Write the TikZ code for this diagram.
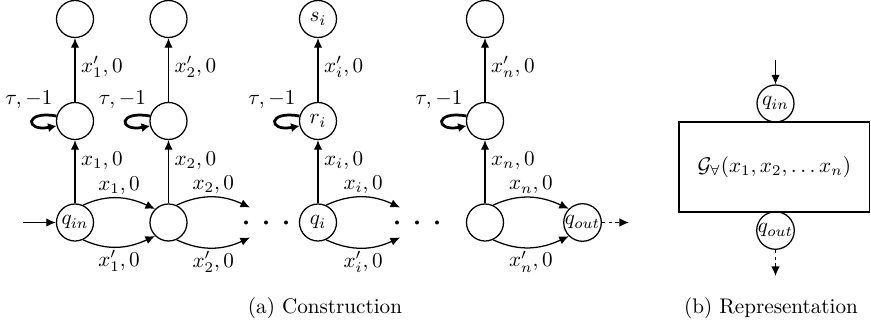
\documentclass[tikz,border=0pt]{standalone}
\usetikzlibrary{arrows.meta}
\begin{document}
\begin{tikzpicture}[x=0.473pt,y=0.473pt,
  st/.style={circle,draw,line width=0.6pt,minimum size=17.5pt,inner sep=0pt},
  ed/.style={line width=0.6pt,-{Latex[length=4.5pt,width=4pt]}},
  lp/.style={line width=1.3pt,-{Latex[length=4pt,width=4.4pt]}},
  lb/.style={font=\normalsize,inner sep=2.6pt},
  al/.style={lb,inner sep=1.4pt},
  dsh/.style={ed,dash pattern=on 1.6pt off 1.6pt}]
\useasboundingbox (0,0) rectangle (871,324);
% nodes
\foreach \n/\x in {1/75,2/168.5,4/485}{
  \node[st] (t\n) at (\x,305) {};
  \node[st] (m\n) at (\x,203) {};
}
\node[st] (t3) at (318,305) {$s_i$};
\node[st] (m3) at (318,203) {$r_i$};
\node[st] (b1) at (75,101.5) {$q_{in}$};
\node[st] (b2) at (168.5,101.5) {};
\node[st] (b3) at (318,101.5) {$q_i$};
\node[st] (b4) at (485,101.5) {};
\node[st] (qo) at (582.5,101.5) {$q_{out}$};
\coordinate (st0) at (23,101.5);
\coordinate (c2u) at (250,116.5);
\coordinate (c2d) at (250,86.5);
\coordinate (c3u) at (400,116.5);
\coordinate (c3d) at (400,86.5);
\coordinate (qoe) at (629,101.5);
% dots
\foreach \x in {246,266,286,397,417,437}{\fill (\x,101.5) circle (2);}
% vertical edges and loops
\foreach \n/\s in {1/1,2/2,3/i,4/n}{
  \draw[ed] (b\n) -- node[lb,right,pos=0.67]{$x_\s,0$} (m\n);
  \draw[ed] (m\n) -- node[lb,right,pos=0.55]{$x'_\s,0$} (t\n);
  \draw[lp] (m\n.165) .. controls +(-32,6) and +(-32,-6) .. (m\n.195);
  \node[lb] (lab\n) at ([xshift=-21.8pt,yshift=10pt]m\n.center) {$\tau,-1$};
}
% horizontal arcs
\draw[ed] (st0) -- (b1);
\draw[ed] (b1.65) to[out=25,in=155] node[al,above]{$x_1,0$} (b2.135);
\draw[ed] (b1.-65) to[out=-25,in=-155] node[al,below]{$x'_1,0$} (b2.-135);
\draw[ed] (b2.65) to[out=25,in=155] node[al,above]{$x_2,0$} (c2u);
\draw[ed] (b2.-65) to[out=-25,in=-155] node[al,below]{$x'_2,0$} (c2d);
\draw[ed] (b3.65) to[out=25,in=155] node[al,above]{$x_i,0$} (c3u);
\draw[ed] (b3.-65) to[out=-25,in=-155] node[al,below]{$x'_i,0$} (c3d);
\draw[ed] (b4.65) to[out=25,in=155] node[al,above]{$x_n,0$} (qo.135);
\draw[ed] (b4.-65) to[out=-25,in=-155] node[al,below]{$x'_n,0$} (qo.-135);
\draw[dsh] (qo) -- (qoe);
% representation
\node[draw,line width=0.6pt,minimum width=90.1pt,minimum height=42.6pt,inner sep=0pt] (G) at (774.3,157) {$\mathcal{G}_{\forall}(x_1, x_2, \ldots x_n)$};
\node[st] (qi2) at (775.5,220.5) {$q_{in}$};
\node[st] (qo2) at (775.5,93.5) {$q_{out}$};
\coordinate (in2) at (775.5,264);
\coordinate (out2) at (775.5,48);
\draw[ed] (in2) -- (qi2);
\draw[dsh] (qo2) -- (out2);
% captions
\node[anchor=base] (capa) at (325,10.7) {(a) Construction};
\node[anchor=base] (capb) at (771,10.7) {(b) Representation};
\end{tikzpicture}
\end{document}
